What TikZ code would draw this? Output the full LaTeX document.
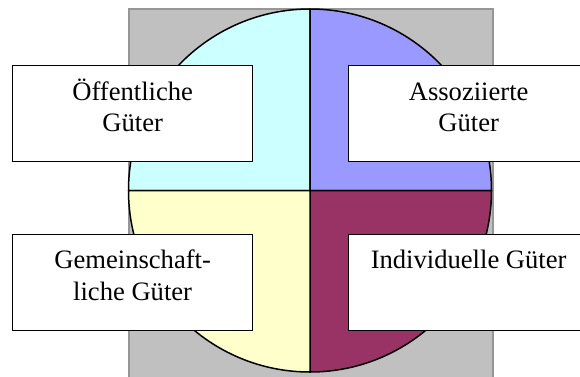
\documentclass[tikz,border=0pt]{standalone}
\usepackage{fontspec}
\setmainfont{Liberation Serif}
\definecolor{qcyan}{HTML}{CCFFFF}
\definecolor{qlav}{HTML}{9999FF}
\definecolor{qyel}{HTML}{FFFFCC}
\definecolor{qred}{HTML}{993366}
\definecolor{bggray}{HTML}{C0C0C0}
\definecolor{bgedge}{HTML}{969696}
\tikzset{
  quad/.style={line width=1.5pt, draw=black, line join=round},
  labelbox/.style={draw=black, fill=white, line width=1.3pt, minimum width=240pt, minimum height=96pt, anchor=north west, inner sep=0pt},
  labeltext/.style={anchor=north, inner sep=0pt, align=center, font=\fontsize{26.6}{31.7}\selectfont}
}
\begin{document}
\begin{tikzpicture}[x=1pt,y=-1pt]
\useasboundingbox (0,0) rectangle (580,376);
% background rectangle
\path[fill=bggray, draw=bgedge, line width=2pt] (129,9) rectangle (493,382);
% quadrants (y axis points down)
\coordinate (C) at (310,190.5);
\path[quad, fill=qcyan] (C) -- ++(180:181.5) arc[start angle=180, end angle=270, radius=181.5] -- cycle;
\path[quad, fill=qlav]  (C) -- ++(270:181.5) arc[start angle=270, end angle=360, radius=181.5] -- cycle;
\path[quad, fill=qred]  (C) -- ++(0:181.5) arc[start angle=0, end angle=90, radius=181.5] -- cycle;
\path[quad, fill=qyel]  (C) -- ++(90:181.5) arc[start angle=90, end angle=180, radius=181.5] -- cycle;
% boxes
\node[labelbox] (b1) at (12,65) {};
\node[labelbox] (b2) at (348,65) {};
\node[labelbox] (b3) at (12,233.5) {};
\node[labelbox] (b4) at (348,233.5) {};
\node[labeltext] (t1) at ([yshift=-11pt]b1.north) {\rule{0pt}{24pt}Öffentliche\\Güter};
\node[labeltext] (t2) at ([yshift=-11pt]b2.north) {\rule{0pt}{24pt}Assoziierte\\Güter};
\node[labeltext] (t3) at ([yshift=-11pt]b3.north) {\rule{0pt}{24pt}Gemeinschaft-\\liche Güter};
\node[labeltext] (t4) at ([yshift=-11pt]b4.north) {\rule{0pt}{24pt}Individuelle Güter};
\end{tikzpicture}
\end{document}
